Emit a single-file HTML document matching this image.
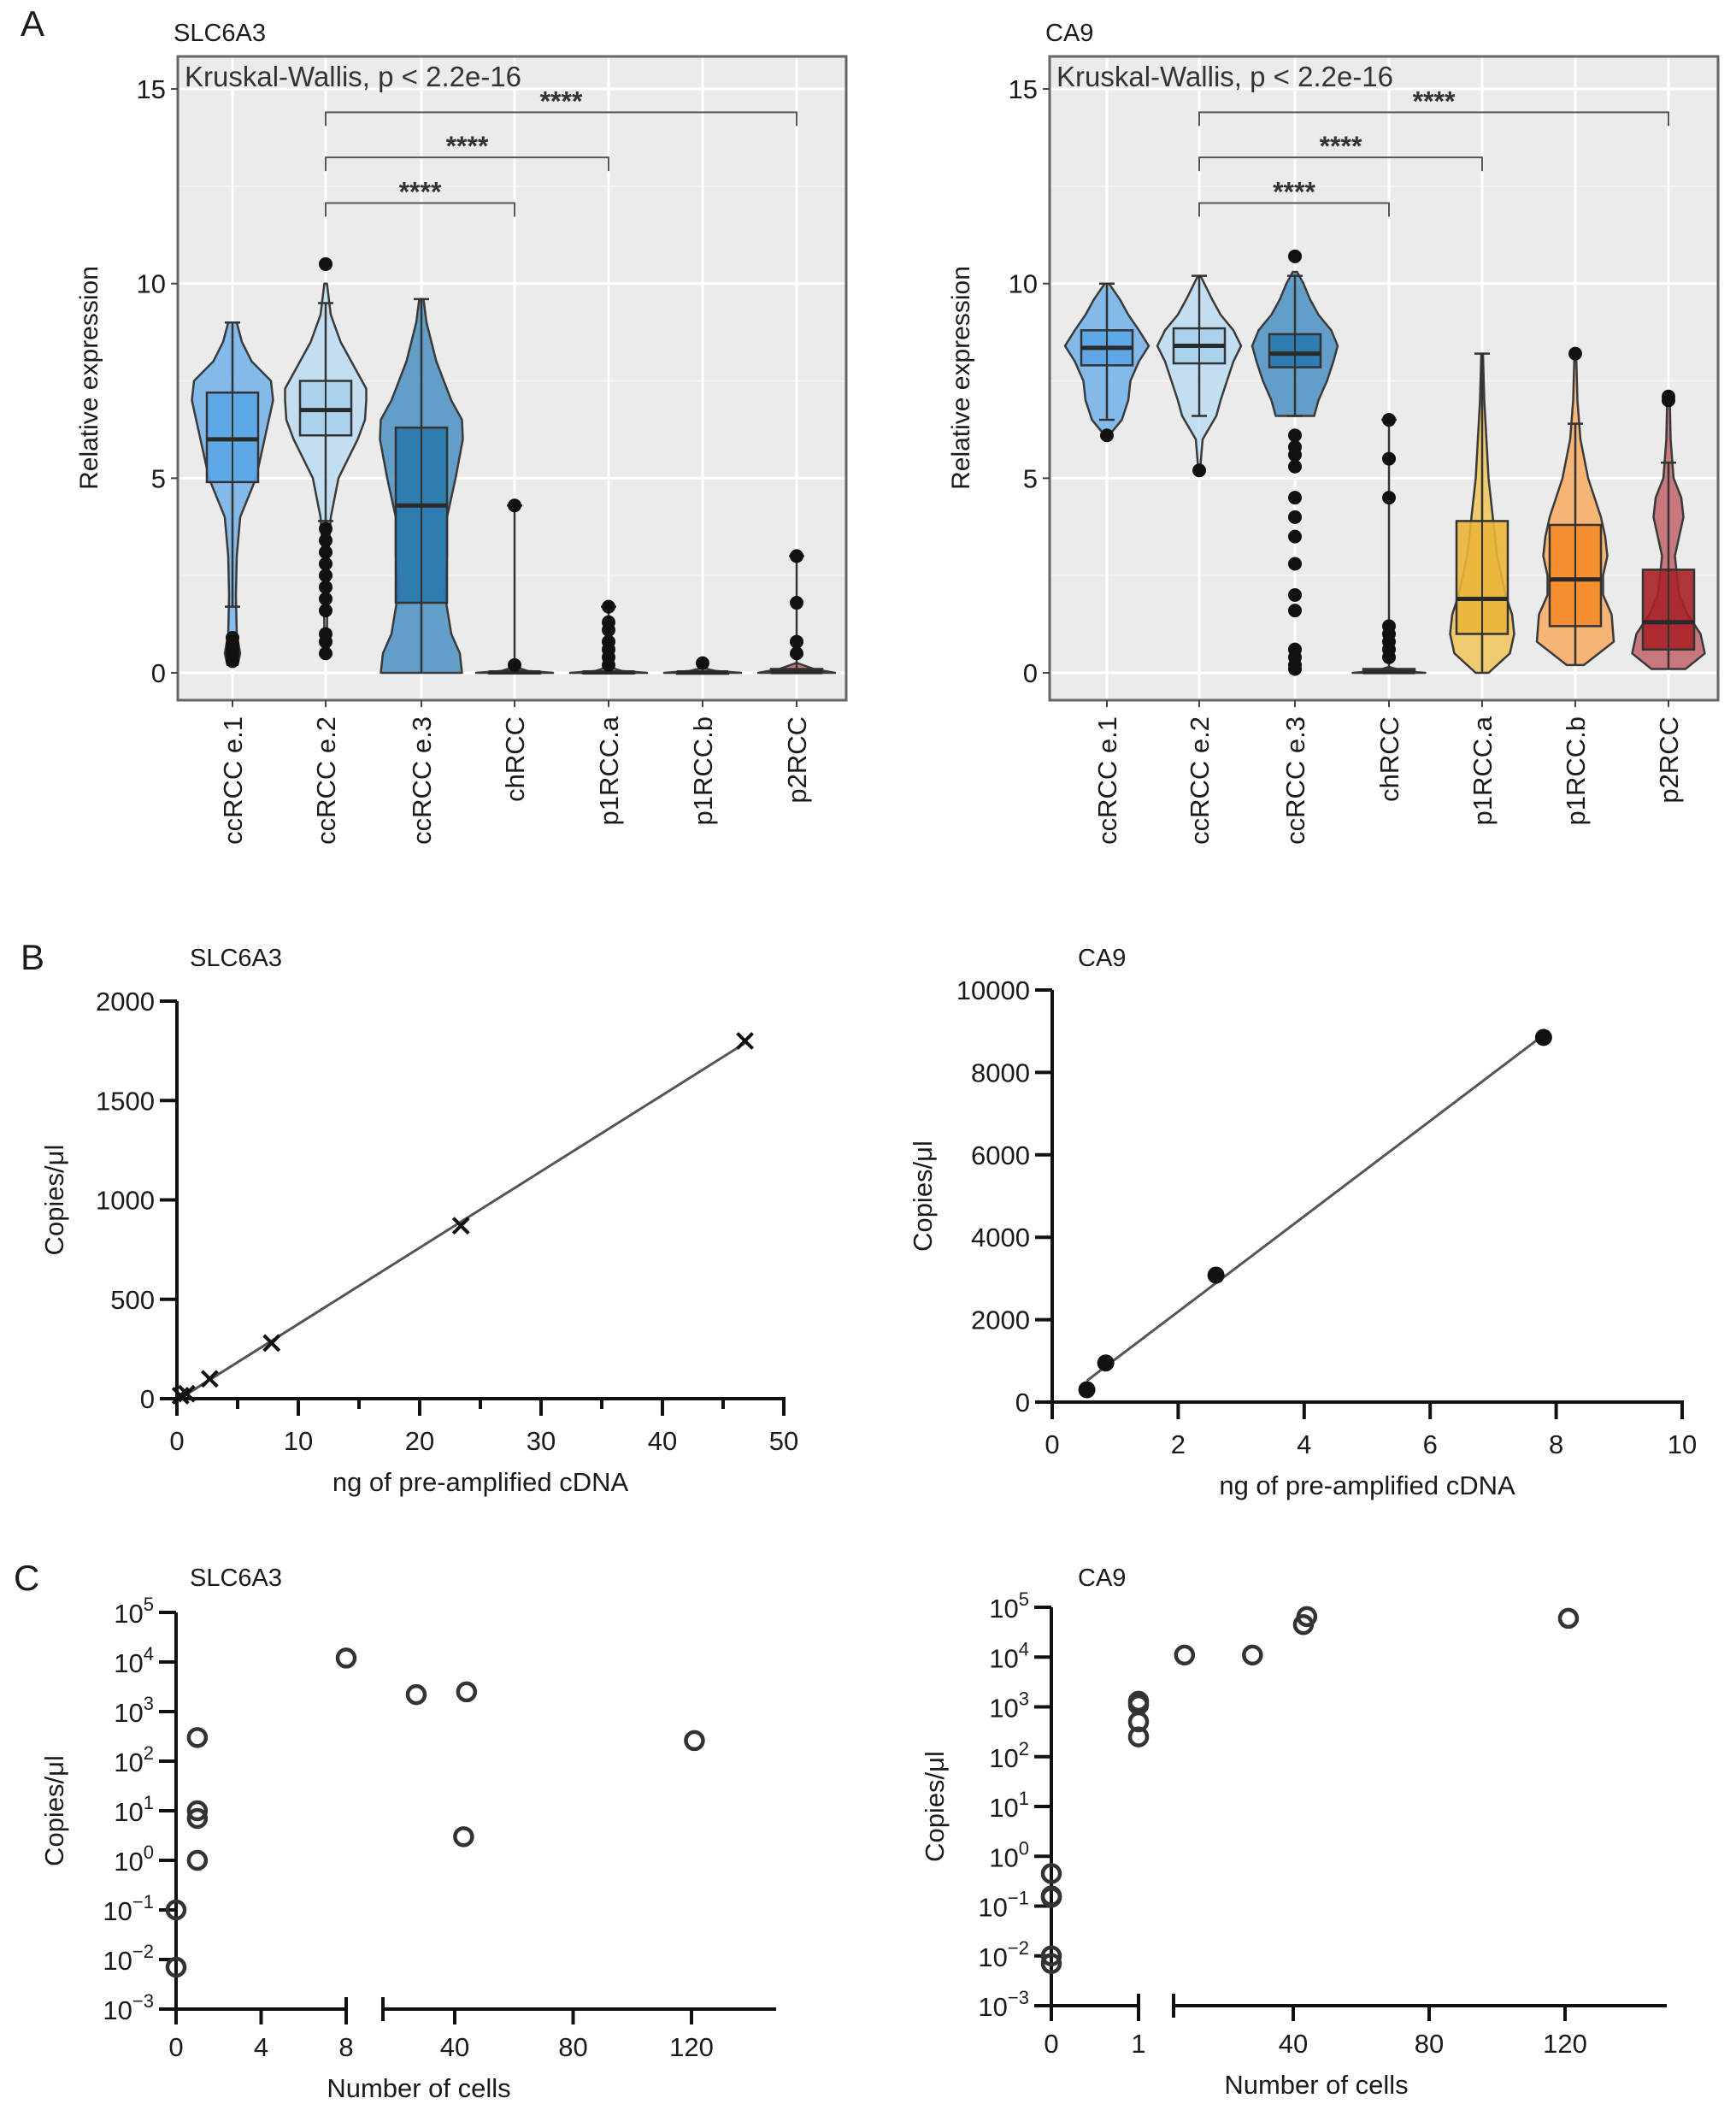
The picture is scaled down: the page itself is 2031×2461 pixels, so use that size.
<!DOCTYPE html>
<html><head><meta charset="utf-8"><style>
html,body{margin:0;padding:0;background:#fff}
svg{display:block;font-family:"Liberation Sans",sans-serif}
</style></head><body>
<svg id="fig" width="2031" height="2461" viewBox="0 0 2031 2461" xmlns="http://www.w3.org/2000/svg"></svg>
<script>
// ---------- DATA ----------
const categories = ["ccRCC e.1","ccRCC e.2","ccRCC e.3","chRCC","p1RCC.a","p1RCC.b","p2RCC"];
const yTicksA = [0,5,10,15];
const slcLevels = [
 [0.2,0.5,1,2,3,4,5,6,7,7.5,8,8.5,9],
 [0.4,1,2,3,4,5,6,6.5,7,7.3,7.8,8.5,9.2,10],
 [0,0.5,1,2,3,4,5,6,6.5,7,8,9,9.6],
 [0,0.05,0.15],[0,0.05,0.15],[0,0.05,0.12],[0,0.1,0.25]];
const slcWidths = [
 [0.12,0.18,0.1,0.08,0.1,0.18,0.55,0.75,0.95,0.9,0.45,0.22,0.1],
 [0.02,0.03,0.04,0.06,0.12,0.3,0.75,0.92,0.95,0.95,0.7,0.35,0.12,0.03],
 [0.95,0.9,0.7,0.55,0.6,0.6,0.8,0.97,0.95,0.7,0.35,0.12,0.05],
 [0.9,0.3,0.02],[0.9,0.3,0.02],[0.9,0.3,0.02],[0.9,0.4,0.02]];
const slcBox = [[4.9,6.0,7.2],[6.1,6.75,7.5],[1.8,4.3,6.3],[0,0.01,0.03],[0,0.01,0.03],[0,0.01,0.02],[0,0.02,0.1]];
const slcWhisk = [[1.7,9.0],[3.9,9.5],[0,9.6],[0,4.3],[0,1.7],[0,0.25],[0,3.0]];
const slcOut = [[0.3,0.45,0.6,0.75,0.9,0.5],[0.5,0.8,1.0,1.6,1.9,2.2,2.5,2.8,3.1,3.4,3.7,10.5],[],[4.3,0.2],[1.7,1.3,1.1,0.8,0.6,0.4,0.2],[0.25],[3.0,1.8,0.8,0.5]];
const caLevels = [
 [6.1,6.5,7,7.5,8,8.4,8.8,9.2,9.6,10],
 [5.2,6,6.6,7,7.5,8,8.4,8.8,9.2,9.6,10.2],
 [6.6,7,7.5,8,8.4,8.8,9.2,9.6,10,10.3],
 [0,0.05,0.15],
 [0,0.5,1,1.5,2,3,4,5,6,7,8.2],
 [0.2,0.8,1.5,2,2.5,3,3.5,4,5,6,7,8.2],
 [0.1,0.5,1,1.5,2,3,4,4.5,5,6,7.1]];
const caWidths = [
 [0.05,0.35,0.5,0.55,0.75,0.98,0.75,0.5,0.3,0.05],
 [0.02,0.08,0.4,0.5,0.65,0.8,0.98,0.8,0.5,0.3,0.03],
 [0.45,0.55,0.75,0.9,1.0,0.85,0.55,0.35,0.2,0.05],
 [0.85,0.3,0.02],
 [0.15,0.65,0.75,0.7,0.55,0.35,0.25,0.15,0.1,0.05,0.02],
 [0.2,0.9,0.85,0.65,0.65,0.75,0.7,0.6,0.3,0.12,0.05,0.02],
 [0.4,0.85,0.75,0.45,0.25,0.15,0.35,0.3,0.12,0.05,0.03]];
const caBox = [[7.9,8.35,8.8],[7.95,8.4,8.85],[7.85,8.2,8.7],[0,0.02,0.1],[1.0,1.9,3.9],[1.2,2.4,3.8],[0.6,1.3,2.65]];
const caWhisk = [[6.5,10.0],[6.6,10.2],[6.6,10.2],[0,6.5],[0,8.2],[0.2,6.4],[0.1,5.4]];
const caOut = [[6.1],[5.2],[10.7,6.1,5.8,5.6,5.3,4.5,4.0,3.5,2.8,2.0,1.6,0.6,0.4,0.2,0.1],[6.5,5.5,4.5,1.2,1.0,0.8,0.6,0.4],[],[8.2],[7.1,7.0]];
const violinFill = ["#72b2ea","#bcdcf1","#4a90c2","#555555","#f1c458","#f8aa62","#bf6469"];
const boxFill = ["#5aa6e6","#a9d0ec","#2a78ad","#444444","#eab53a","#f58b28","#a82228"];
const brackets = [[1,3,12.07],[1,4,13.24],[1,6,14.4]];
const bLeftX = [0.3,0.8,2.7,7.8,23.4,46.8];
const bLeftY = [15,25,100,280,870,1800];
const bLeftYTicks = [0,500,1000,1500,2000];
const bLeftXTicks = [0,10,20,30,40,50];
const bRightX = [0.55,0.85,2.6,7.8];
const bRightY = [300,950,3080,8850];
const bRightYTicks = [0,2000,4000,6000,8000,10000];
const bRightXTicks = [0,2,4,6,8,10];
const cLeftX = [0,0,1,1,1,1,8,27,44,43,121];
const cLeftY = [0.1,0.007,300,10,7,1,12000,2200,2500,3,260];
const cRightX = [0,0,0,0,0,1,1,1,1,8,28,43,44,121];
const cRightY = [0.45,0.16,0.15,0.01,0.007,1300,1100,500,250,11000,11000,45000,65000,60000];
const cLogTicks = [-3,-2,-1,0,1,2,3,4,5];

// ---------- HELPERS ----------
const svg = document.getElementById('fig');
const NS = "http://www.w3.org/2000/svg";
function mk(tag, attrs, parent, text){
  const e = document.createElementNS(NS, tag);
  for (const k in attrs) e.setAttribute(k, attrs[k]);
  if (text !== undefined) e.textContent = text;
  (parent||svg).appendChild(e);
  return e;
}
function txt(x,y,s,size,anchor,parent,extra){
  return mk('text', Object.assign({x:x,y:y,'font-size':size,'text-anchor':anchor||'start',fill:'#1a1a1a'}, extra||{}), parent, s);
}

// ---------- PANEL A ----------
function panelA(x0, x1, catX, title, levels, widths, box, whisk, outs, name){
  const g = mk('g', {});
  
  
  const top=66, bot=819;
  const ys = v => 787 - v*45.53;
  const bg = mk('rect',{x:x0,y:top,width:x1-x0,height:bot-top,fill:'#ebebeb'},g);
  
  
  [2.5,7.5,12.5].forEach(v=>mk('line',{x1:x0,x2:x1,y1:ys(v),y2:ys(v),stroke:'#f6f6f6','stroke-width':1.5},g));
  yTicksA.forEach(v=>mk('line',{x1:x0,x2:x1,y1:ys(v),y2:ys(v),stroke:'#fff','stroke-width':3},g));
  catX.forEach(cx=>mk('line',{x1:cx,x2:cx,y1:top,y2:bot,stroke:'#fff','stroke-width':3},g));
  categories.forEach((c,i)=>{
    const cx = catX[i], W=50;
    const lv = levels[i], wd = widths[i];
    let d = "M"+(cx+wd[0]*W)+","+ys(lv[0]);
    for(let k=1;k<lv.length;k++) d += " L"+(cx+wd[k]*W)+","+ys(lv[k]);
    d += " L"+cx+","+ys(lv[lv.length-1]);
    for(let k=lv.length-1;k>=0;k--) d += " L"+(cx-wd[k]*W)+","+ys(lv[k]);
    d += "Z";
    const v = mk('path',{d:d,fill:violinFill[i],'fill-opacity':0.85,stroke:'#3a3a3a','stroke-width':2.5,'stroke-linejoin':'round'},g);
    
    
    mk('line',{x1:cx,x2:cx,y1:ys(whisk[i][0]),y2:ys(whisk[i][1]),stroke:'#333','stroke-width':2.5},g);
    [whisk[i][0],whisk[i][1]].forEach(w=>{ if(w>0.3) mk('line',{x1:cx-9,x2:cx+9,y1:ys(w),y2:ys(w),stroke:'#333','stroke-width':2.5},g);});
    const b = box[i];
    const bx = mk('rect',{x:cx-30,y:ys(b[2]),width:60,height:Math.max(2,ys(b[0])-ys(b[2])),fill:boxFill[i],'fill-opacity':0.9,stroke:'#333','stroke-width':2.5},g);
    
    
    mk('line',{x1:cx,x2:cx,y1:ys(b[2]),y2:ys(b[0]),stroke:'#333','stroke-width':2},g);
    mk('line',{x1:cx-30,x2:cx+30,y1:ys(b[1]),y2:ys(b[1]),stroke:'#2a2a2a','stroke-width':5},g);
    outs[i].forEach(o=>{
      const p = mk('circle',{cx:cx,cy:ys(o),r:8,fill:'#111'},g);
      
      
    });
  });
  brackets.forEach(br=>{
    const a=catX[br[0]], b=catX[br[1]], y=ys(br[2]);
    const p = mk('path',{d:`M${a},${y+16} L${a},${y} L${b},${y} L${b},${y+16}`,fill:'none',stroke:'#555','stroke-width':2},g);
    
    
    const t = txt((a+b)/2, y-2, '****', 32, 'middle', g, {fill:'#333','font-weight':'bold'});
    
    
  });
  const fr = mk('rect',{x:x0,y:top,width:x1-x0,height:bot-top,fill:'none',stroke:'#666','stroke-width':3},g);
  
  
  const kw = txt(x0+8, 101, 'Kruskal-Wallis, p < 2.2e-16', 33, 'start', g, {fill:'#333'});
  
  
  yTicksA.forEach(v=>{
    mk('line',{x1:x0-8,x2:x0,y1:ys(v),y2:ys(v),stroke:'#444','stroke-width':2},g);
    const t = txt(x0-14, ys(v)+11, String(v), 31, 'end', g);
    
    
  });
  categories.forEach((c,i)=>{
    mk('line',{x1:catX[i],x2:catX[i],y1:bot,y2:bot+8,stroke:'#444','stroke-width':2},g);
    const t = txt(catX[i]+11, 838, c, 31, 'end', g, {transform:`rotate(-90 ${catX[i]+11} 838)`});
    
    
  });
  const yl = txt(x0-94, 442, 'Relative expression', 30, 'middle', g, {transform:`rotate(-90 ${x0-94} 442)`});
  
  
  const tt = txt(x0-5, 48, title, 29, 'start', g);
  
  
}
const catXL = [272,381,493,602,712,822,932];
const catXR = [1295,1403,1515,1625,1734,1843,1952];
panelA(208, 990, catXL, 'SLC6A3', slcLevels, slcWidths, slcBox, slcWhisk, slcOut, 'panel-a-slc6a3');
panelA(1228, 2010, catXR, 'CA9', caLevels, caWidths, caBox, caWhisk, caOut, 'panel-a-ca9');
const la = txt(24, 42, 'A', 42, 'start');  

// ---------- PANEL B ----------
function panelB(cfg){
  const g = mk('g',{});
  
  
  const xs = v => cfg.ax + v/cfg.xmax*(cfg.axEnd-cfg.ax);
  const ys = v => cfg.y0 - v/cfg.ymax*(cfg.y0-cfg.yTop);
  mk('line',{x1:cfg.ax,x2:cfg.ax,y1:cfg.yTop,y2:cfg.y0,stroke:'#111','stroke-width':4},g);
  mk('line',{x1:cfg.ax-20,x2:cfg.axEnd+2,y1:cfg.y0,y2:cfg.y0,stroke:'#111','stroke-width':4},g);
  cfg.yTicks.forEach(v=>{
    mk('line',{x1:cfg.ax-20,x2:cfg.ax,y1:ys(v),y2:ys(v),stroke:'#111','stroke-width':4},g);
    const t = txt(cfg.ax-26, ys(v)+11, String(v), 31, 'end', g);
    
    
  });
  cfg.xTicks.forEach((v,k)=>{
    mk('line',{x1:xs(v),x2:xs(v),y1:cfg.y0,y2:cfg.y0+20,stroke:'#111','stroke-width':4},g);
    if(cfg.minor && k<cfg.xTicks.length-1){ const m=(v+cfg.xTicks[k+1])/2; mk('line',{x1:xs(m),x2:xs(m),y1:cfg.y0,y2:cfg.y0+12,stroke:'#111','stroke-width':4},g);}
    const t = txt(xs(v), cfg.y0+60, String(v), 31, 'middle', g);
    
    
  });
  const n=cfg.xv.length; let sx=0,sy=0,sxx=0,sxy=0;
  for(let i=0;i<n;i++){sx+=cfg.xv[i];sy+=cfg.yv[i];sxx+=cfg.xv[i]*cfg.xv[i];sxy+=cfg.xv[i]*cfg.yv[i];}
  const sl=(n*sxy-sx*sy)/(n*sxx-sx*sx), ic=(sy-sl*sx)/n;
  const xa=cfg.xv[0], xb=cfg.xv[n-1];
  const ln = mk('line',{x1:xs(xa),y1:ys(ic+sl*xa),x2:xs(xb),y2:ys(ic+sl*xb),stroke:'#555','stroke-width':3},g);
  
  
  cfg.xv.forEach((x,i)=>{
    const px=xs(x), py=ys(cfg.yv[i]);
    if(cfg.marker==='x'){
      const p = mk('path',{d:`M${px-9},${py-9} L${px+9},${py+9} M${px-9},${py+9} L${px+9},${py-9}`,stroke:'#111','stroke-width':4},g);
      
      
    } else {
      const p = mk('circle',{cx:px,cy:py,r:10,fill:'#111'},g);
      
      
    }
  });
  const xl = txt((cfg.ax+cfg.axEnd)/2, cfg.y0+108, 'ng of pre-amplified cDNA', 31, 'middle', g);
   
  const yl = txt(cfg.ylx, (cfg.yTop+cfg.y0)/2, 'Copies/μl', 31, 'middle', g, {transform:`rotate(-90 ${cfg.ylx} ${(cfg.yTop+cfg.y0)/2})`});
   
  const tt = txt(cfg.titleX, 1130, cfg.title, 29, 'start', g);
   
}
panelB({name:'panel-b-slc6a3',ax:207,axEnd:917,xmax:50,y0:1636,yTop:1171,ymax:2000,yTicks:bLeftYTicks,xTicks:bLeftXTicks,minor:true,xv:bLeftX,yv:bLeftY,marker:'x',ylx:74,titleX:222,title:'SLC6A3'});
panelB({name:'panel-b-ca9',ax:1231,axEnd:1968,xmax:10,y0:1640,yTop:1158,ymax:10000,yTicks:bRightYTicks,xTicks:bRightXTicks,minor:false,xv:bRightX,yv:bRightY,marker:'o',ylx:1090,titleX:1261,title:'CA9'});
const lb = txt(24, 1134, 'B', 42, 'start');  

// ---------- PANEL C ----------
function panelC(cfg){
  const g = mk('g',{});
  
  
  const ys = v => cfg.yBot - (Math.log10(v)+3)/8*(cfg.yBot-cfg.yTop);
  const xs = v => v<=cfg.s1max ? cfg.ax + v/cfg.s1max*(cfg.s1end-cfg.ax)
                               : cfg.x40 + (v-40)/40*cfg.px40;
  mk('line',{x1:cfg.ax,x2:cfg.ax,y1:cfg.yTop,y2:cfg.yBot,stroke:'#111','stroke-width':4},g);
  mk('line',{x1:cfg.ax-20,x2:cfg.s1end,y1:cfg.yBot,y2:cfg.yBot,stroke:'#111','stroke-width':4},g);
  mk('line',{x1:cfg.s1end,x2:cfg.s1end,y1:cfg.yBot-14,y2:cfg.yBot+14,stroke:'#111','stroke-width':4},g);
  mk('line',{x1:cfg.s2start,x2:cfg.s2end,y1:cfg.yBot,y2:cfg.yBot,stroke:'#111','stroke-width':4},g);
  mk('line',{x1:cfg.s2start,x2:cfg.s2start,y1:cfg.yBot-14,y2:cfg.yBot+14,stroke:'#111','stroke-width':4},g);
  cLogTicks.forEach(e=>{
    const y=ys(Math.pow(10,e));
    mk('line',{x1:cfg.ax-20,x2:cfg.ax,y1:y,y2:y,stroke:'#111','stroke-width':4},g);
    const t = mk('text',{x:cfg.ax-26,y:y+12,'font-size':31,'text-anchor':'end',fill:'#1a1a1a'},g);
    
    
    mk('tspan',{},t,'10');
    mk('tspan',{dy:-14,'font-size':22},t, e<0 ? '\u2212'+(-e) : String(e));
  });
  cfg.xTicks.forEach(v=>{
    const x=xs(v);
    mk('line',{x1:x,x2:x,y1:cfg.yBot,y2:cfg.yBot+18,stroke:'#111','stroke-width':4},g);
    const t = txt(x, cfg.yBot+55, String(v), 31, 'middle', g);
     
  });
  cfg.xv.forEach((x,i)=>{
    const p = mk('circle',{cx:xs(x),cy:ys(cfg.yv[i]),r:10,fill:'none',stroke:'#333','stroke-width':4.5},g);
     
  });
  const xl = txt(cfg.xlx, cfg.yBot+103, 'Number of cells', 31, 'middle', g);
   
  const my=(cfg.yTop+cfg.yBot)/2;
  const yl = txt(cfg.ylx, my, 'Copies/μl', 31, 'middle', g, {transform:`rotate(-90 ${cfg.ylx} ${my})`});
   
  const tt = txt(cfg.titleX, 1855, cfg.title, 29, 'start', g);
   
}
panelC({name:'panel-c-slc6a3',ax:206,yTop:1886,yBot:2350,s1max:8,s1end:405,s2start:448,s2end:908,x40:532,px40:138.5,xTicks:[0,4,8,40,80,120],xv:cLeftX,yv:cLeftY,xlx:490,ylx:74,titleX:222,title:'SLC6A3'});
panelC({name:'panel-c-ca9',ax:1230,yTop:1880,yBot:2346,s1max:1,s1end:1332,s2start:1373,s2end:1950,x40:1513,px40:159,xTicks:[0,1,40,80,120],xv:cRightX,yv:cRightY,xlx:1540,ylx:1104,titleX:1261,title:'CA9'});
const lc = txt(16, 1860, 'C', 42, 'start');  
</script>
</body></html>
